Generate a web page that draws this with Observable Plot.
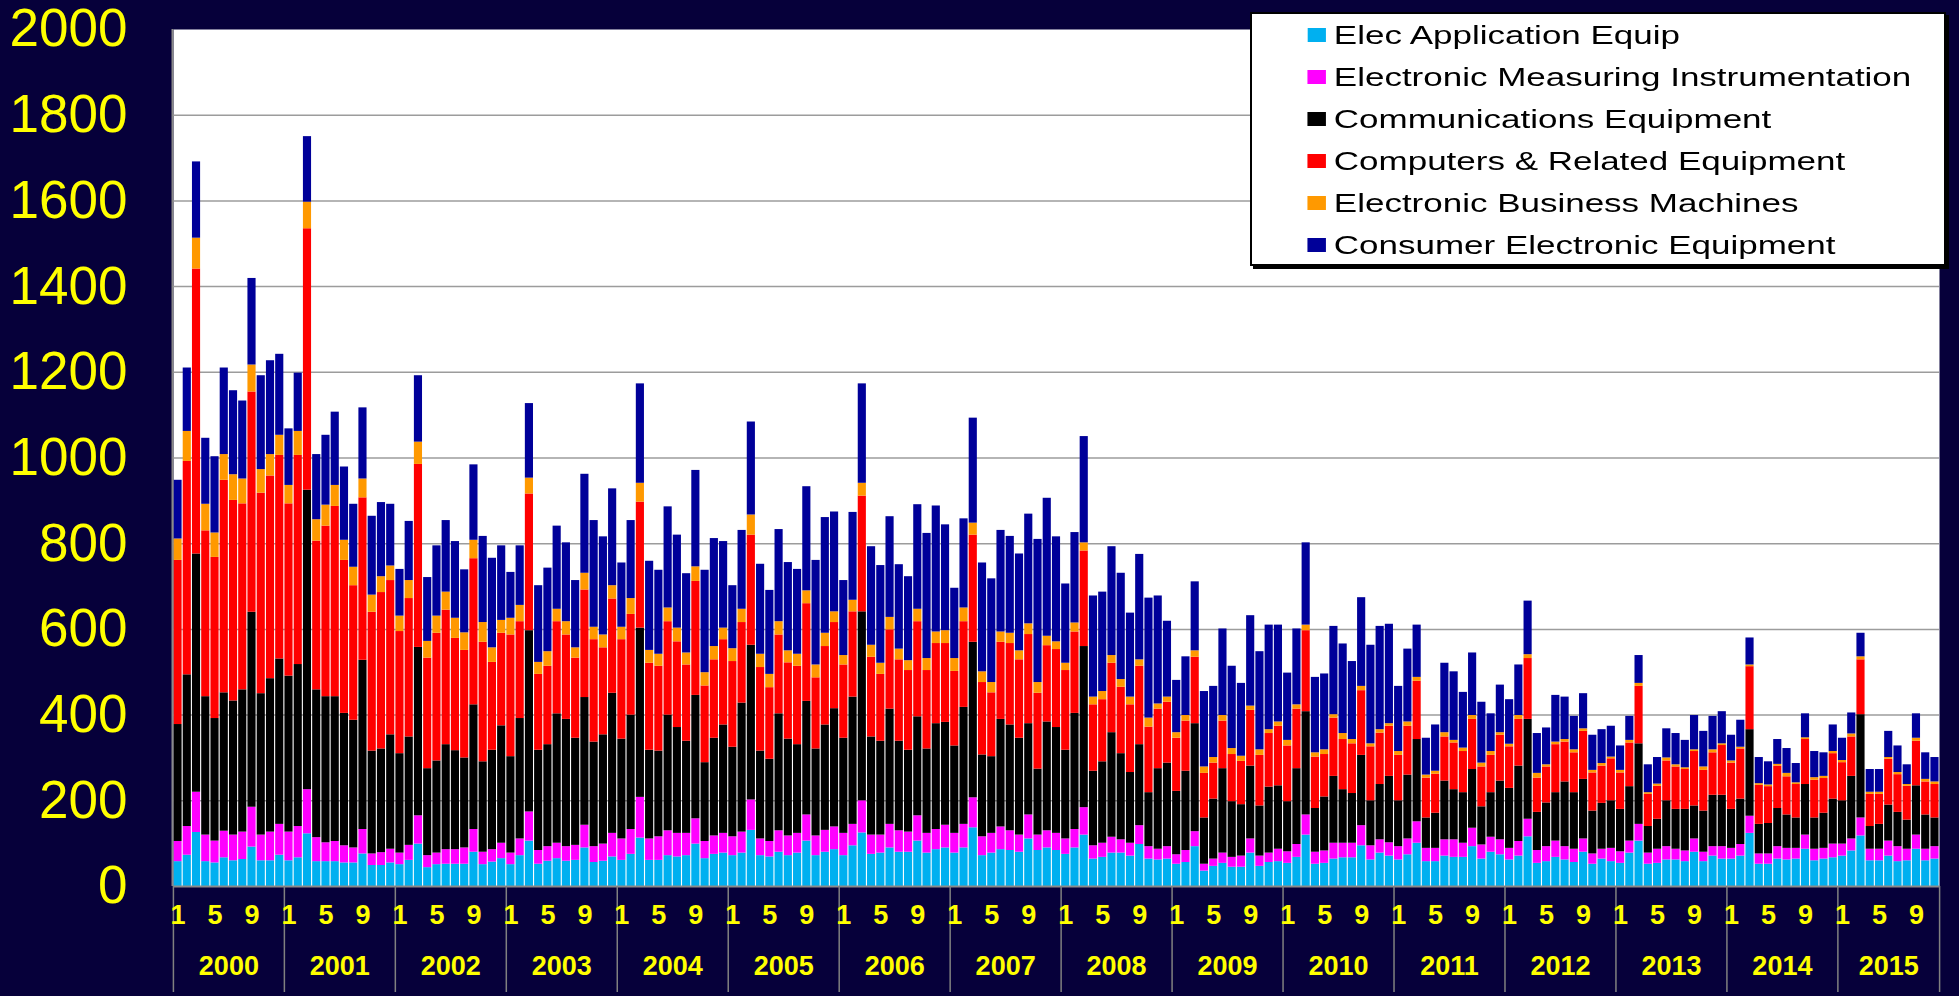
<!DOCTYPE html>
<html>
<head>
<meta charset="utf-8">
<script src="https://cdn.jsdelivr.net/npm/d3@7"></script>
<script src="https://cdn.jsdelivr.net/npm/@observablehq/plot@0.6"></script>
<style>
html, body { margin: 0; padding: 0; background: #06003a; }
#wrap { position: relative; width: 1959px; height: 996px; overflow: hidden; background: #06003a; }
#chart svg { display: block; }
#legend { position: absolute; left: 1250px; top: 12px; width: 696px; height: 254px; box-sizing: border-box;
  border: 2px solid #000; background: #fff; box-shadow: 3px 3px 0 #000; }
#legend .inner { position: absolute; left: 0; top: 0; transform: scaleX(1.32); transform-origin: 0 0; }
#legend .row { position: absolute; left: 42px; height: 30px; display: flex; align-items: center; white-space: nowrap;
  font-family: "Liberation Sans", Arial, sans-serif; font-size: 26.5px; color: #000; }
#legend .sw { width: 14px; height: 14px; margin-right: 6px; flex: none; }
</style>
</head>
<body>
<div id="wrap">
  <div id="chart"></div>
  <div id="legend"><div class="inner"></div></div>
</div>
<script>
// ---------- data ----------
const years = [2000,2001,2002,2003,2004,2005,2006,2007,2008,2009,2010,2011,2012,2013,2014,2015];
const monthsPerYear = [12,12,12,12,12,12,12,12,12,12,12,12,12,12,12,11];
const monthTickLabels = ["1","5","9"];
const yTicks = [0,200,400,600,800,1000,1200,1400,1600,1800,2000];

const seriesNames = [
  "Elec Application Equip",
  "Electronic Measuring Instrumentation",
  "Communications Equipment",
  "Computers & Related Equipment",
  "Electronic Business Machines",
  "Consumer Electronic Equipment"
];
const seriesColors = ["#00b0f0","#ff00ff","#000000","#ff0000","#ff9900","#000099"];

const elecApplication = [
  58,73,126,58,55,67,60,63,92,60,60,73,
  60,67,123,58,58,58,55,55,76,49,49,55,
  51,61,99,44,51,52,52,52,80,51,57,65,
  51,72,106,52,59,65,59,61,90,56,59,69,
  61,75,113,61,61,72,69,72,99,65,75,78,
  72,78,131,72,69,80,72,78,106,72,80,86,
  72,95,125,75,78,90,80,80,106,78,86,90,
  78,90,137,72,78,86,84,80,111,84,90,84,
  75,90,120,64,68,78,78,71,98,64,62,64,
  52,56,93,36,47,54,45,45,78,47,56,58,
  54,68,120,52,54,64,67,67,95,62,78,71,
  62,74,101,58,58,71,68,68,93,64,80,74,
  62,71,116,54,58,68,62,56,80,52,64,58,
  54,78,106,52,54,62,62,58,80,58,71,64,
  64,71,124,52,52,64,62,64,87,60,64,67,
  71,83,118,60,60,71,58,60,87,60,64
];
const measuringInstr = [
  47,67,94,62,51,62,60,64,93,60,67,72,
  67,73,103,56,44,47,40,35,57,27,30,32,
  27,35,66,28,27,34,34,38,53,29,29,36,
  27,39,68,32,34,36,34,35,53,37,40,55,
  50,58,95,50,55,58,55,52,59,40,43,46,
  44,49,71,39,36,50,46,46,61,46,51,53,
  52,50,75,45,42,55,50,47,59,46,47,53,
  46,55,70,44,46,53,46,40,56,36,40,40,
  36,43,64,31,33,37,31,30,44,29,25,29,
  22,28,35,16,17,24,23,26,33,24,22,29,
  27,30,47,28,29,37,34,34,47,33,31,31,
  31,37,50,31,31,38,41,33,43,33,35,35,
  27,34,41,30,35,38,31,31,31,24,23,31,
  27,28,39,26,33,31,25,25,31,22,22,29,
  25,27,40,24,24,29,27,25,33,27,25,32,
  28,28,42,27,27,35,35,27,33,27,29
];
const communications = [
  273,354,556,323,286,323,313,332,455,330,358,386,
  364,378,699,345,341,338,309,298,395,240,242,267,
  232,253,393,203,215,245,231,210,291,211,232,274,
  225,281,423,234,238,302,297,250,298,244,255,327,
  233,267,395,207,200,270,247,215,288,184,228,253,
  209,301,361,205,192,273,226,207,265,203,246,276,
  222,297,441,229,219,269,209,191,231,197,247,240,
  204,273,363,191,179,251,247,226,213,154,254,247,
  207,271,376,174,190,244,201,165,189,126,188,195,
  148,185,252,108,140,197,130,120,170,117,154,148,
  117,177,241,102,126,156,125,116,164,105,129,155,
  107,149,192,71,82,137,117,118,137,89,104,137,
  140,176,233,89,102,113,151,132,139,100,107,111,
  99,127,188,62,70,107,93,97,77,96,120,120,
  91,106,202,69,71,89,78,71,118,73,82,105,
  101,146,241,53,58,84,80,68,115,80,67
];
const computers = [
  383,498,665,387,376,496,468,434,514,468,473,475,
  402,488,610,347,398,444,357,314,379,324,365,360,
  285,323,427,258,298,314,262,251,341,279,205,216,
  284,226,319,177,183,215,197,187,251,239,203,220,
  232,235,294,203,198,218,200,178,266,179,183,199,
  200,188,257,195,167,184,178,183,228,166,183,201,
  171,199,270,186,156,185,190,186,222,183,187,184,
  174,200,250,169,149,180,190,183,208,177,178,182,
  186,190,223,155,145,162,155,158,183,153,139,142,
  124,117,155,104,84,111,110,101,130,118,125,139,
  130,139,189,120,99,136,117,116,151,126,120,117,
  106,114,136,93,91,103,109,96,117,93,87,107,
  97,109,142,80,84,112,93,93,112,89,87,98,
  85,102,134,75,77,93,99,93,127,95,99,116,
  108,117,147,91,86,99,89,78,105,88,81,106,
  89,92,128,75,70,107,88,79,104,77,78
];
const businessMachines = [
  50,70,72,62,57,60,60,58,63,55,50,47,
  43,56,62,50,49,49,47,43,44,40,37,34,
  36,42,52,39,40,42,47,41,43,46,34,30,
  39,38,37,28,34,29,31,24,39,29,30,31,
  29,37,44,30,28,32,32,28,34,31,31,27,
  30,31,47,31,31,31,28,28,30,30,31,25,
  22,27,30,28,26,29,25,23,29,28,27,30,
  30,32,28,25,24,24,24,21,25,25,22,18,
  17,21,19,18,19,18,18,18,15,21,12,12,
  13,13,15,15,13,13,14,12,10,13,9,10,
  13,10,13,10,11,8,14,10,10,7,8,6,
  9,10,9,7,7,10,6,8,9,9,9,6,
  6,9,9,11,5,6,6,7,6,6,6,4,
  6,6,7,4,5,7,5,4,4,8,7,4,
  5,4,4,4,4,4,8,4,4,6,5,5,
  5,7,7,5,5,4,5,4,7,6,6
];
const consumer = [
  137,148,178,154,178,202,196,182,202,219,219,189,
  132,136,153,152,163,171,171,147,166,184,173,144,
  109,138,155,149,164,167,179,147,176,201,209,174,
  107,139,174,179,195,194,184,157,231,249,229,226,
  150,182,232,208,196,236,217,185,225,239,252,202,
  147,184,217,210,196,215,206,198,243,244,270,233,
  175,205,232,230,228,235,197,196,244,292,294,247,
  164,208,245,254,242,237,226,226,256,334,322,245,
  185,211,248,236,232,254,248,196,246,280,252,177,
  122,137,161,176,166,202,192,170,211,229,244,226,
  157,177,192,176,177,206,209,182,207,230,241,232,
  152,170,122,86,108,162,160,130,146,142,88,111,
  104,118,125,93,86,109,99,78,82,82,79,72,
  57,56,65,65,62,68,73,64,80,83,78,75,
  60,63,63,61,54,58,58,45,56,61,55,62,
  52,49,55,53,53,61,62,46,57,62,57
];
const seriesValues = [elecApplication, measuringInstr, communications, computers, businessMachines, consumer];

// ---------- categories ----------
const months = [];
const monthLabels = [];
const yearInfo = [];
years.forEach((y, yi) => {
  const n = monthsPerYear[yi];
  const keys = [];
  for (let m = 1; m <= n; m++) {
    const k = `${y}-${String(m).padStart(2, "0")}`;
    months.push(k); keys.push(k);
    if (monthTickLabels.includes(String(m))) monthLabels.push({month: k, label: String(m)});
  }
  yearInfo.push({year: String(y), keys, n});
});
const data = [];
months.forEach((k, i) => seriesNames.forEach((s, j) => data.push({month: k, series: s, value: seriesValues[j][i]})));

// ---------- layout ----------
const W = 1959, H = 996, ML = 173, MR = 20, MT = 29, MB = 110;
const PI = 0.12, PO = 0.05;
const n = months.length;
const step = (W - ML - MR) / (n - PI + 2 * PO);
const halfBand = step * (1 - PI) / 2;
const yellow = "#ffff00";
const font = "'Liberation Sans', Arial, sans-serif";

const fullYears = yearInfo.filter(d => d.n % 2 === 0).map(d => ({year: d.year, month: d.keys[d.n / 2]}));
const oddYears = yearInfo.filter(d => d.n % 2 === 1).map(d => ({year: d.year, month: d.keys[(d.n - 1) / 2]}));
const janKeys = yearInfo.map(d => d.keys[0]);
const lastKey = months[months.length - 1];

const chart = Plot.plot({
  width: W, height: H,
  marginLeft: ML, marginRight: MR, marginTop: MT, marginBottom: MB,
  style: {background: "transparent", fontFamily: font, overflow: "visible"},
  x: {type: "band", domain: months, paddingInner: PI, paddingOuter: PO, axis: null, label: null},
  y: {domain: [0, 2000], axis: null, label: null},
  color: {domain: seriesNames, range: seriesColors},
  marks: [
    Plot.frame({fill: "white", stroke: null}),
    Plot.gridY(yTicks.filter(d => d > 0 && d < 2000), {stroke: "#9c9c9c", strokeOpacity: 1, strokeWidth: 1.5}),
    Plot.barY(data, {x: "month", y: "value", fill: "series", order: seriesNames}),
    Plot.ruleY([0], {stroke: "#8a8a8a", strokeWidth: 2}),
    Plot.ruleX([months[0]], {stroke: "#8a8a8a", strokeWidth: 2, dx: -(step * PO + halfBand) - 1}),
    Plot.axisY(yTicks, {tickSize: 0, tickPadding: 46, fontSize: 53, color: yellow, fill: yellow, label: null, tickFormat: d => `${d}`}),
    Plot.axisX(janKeys, {tickSize: 106, tickFormat: () => "", label: null, stroke: "#808080", strokeWidth: 1.5, dx: -step / 2}),
    Plot.axisX([lastKey], {tickSize: 106, tickFormat: () => "", label: null, stroke: "#808080", strokeWidth: 1.5, dx: step / 2}),
    Plot.text(monthLabels, {x: "month", text: "label", frameAnchor: "bottom", dy: 37, fill: yellow, fontSize: 27, fontWeight: "bold"}),
    Plot.text(fullYears, {x: "month", text: "year", frameAnchor: "bottom", dy: 88, dx: -step / 2, fill: yellow, fontSize: 27, fontWeight: "bold"}),
    Plot.text(oddYears, {x: "month", text: "year", frameAnchor: "bottom", dy: 88, fill: yellow, fontSize: 27, fontWeight: "bold"})
  ]
});
document.getElementById("chart").appendChild(chart);

// ---------- legend ----------
const inner = document.querySelector("#legend .inner");
seriesNames.forEach((s, i) => {
  const row = document.createElement("div");
  row.className = "row";
  row.style.top = (6 + i * 42) + "px";
  const sw = document.createElement("span");
  sw.className = "sw";
  sw.style.background = seriesColors[i];
  const tx = document.createElement("span");
  tx.textContent = s;
  row.appendChild(sw); row.appendChild(tx);
  inner.appendChild(row);
});
</script>
</body>
</html>
